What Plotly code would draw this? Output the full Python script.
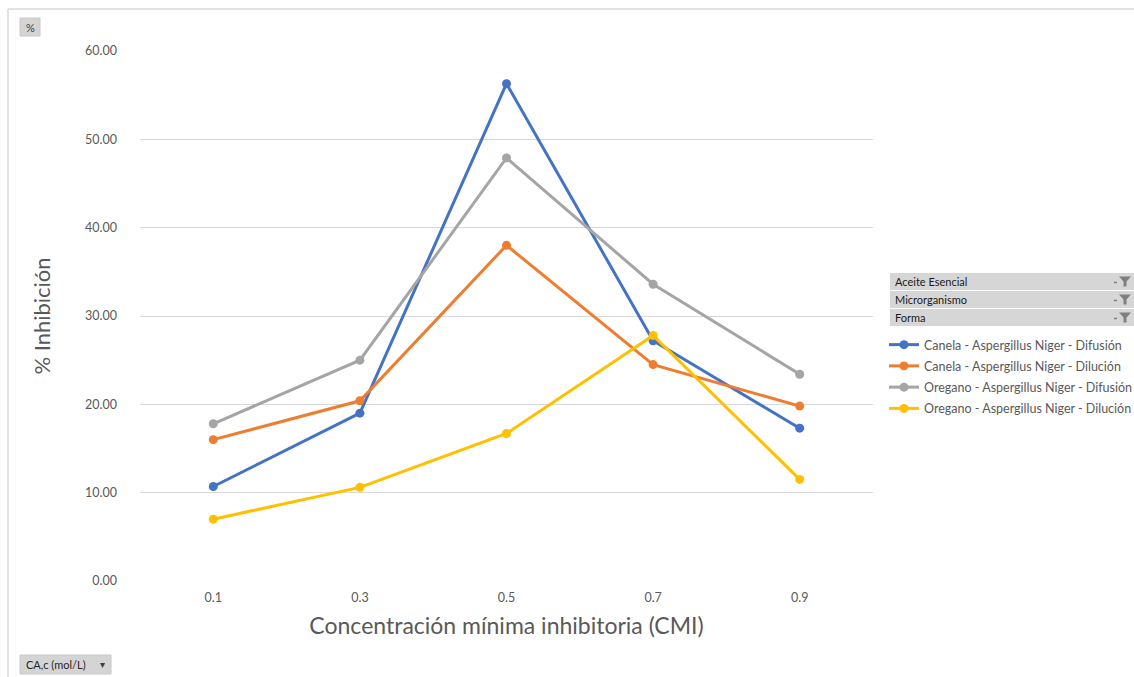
import plotly.graph_objects as go

# ---- data ----
categories = ["0.1", "0.3", "0.5", "0.7", "0.9"]
canela_difusion = [10.7, 19.0, 56.3, 27.2, 17.3]
canela_dilucion = [16.0, 20.4, 38.0, 24.5, 19.8]
oregano_difusion = [17.8, 25.0, 47.9, 33.6, 23.4]
oregano_dilucion = [7.0, 10.6, 16.7, 27.8, 11.5]

series_names = [
    "Canela - Aspergillus Niger - Difusión",
    "Canela - Aspergillus Niger - Dilución",
    "Oregano - Aspergillus Niger - Difusión",
    "Oregano - Aspergillus Niger - Dilución",
]
series_values = [canela_difusion, canela_dilucion, oregano_difusion, oregano_dilucion]
colors = ["#4472C4", "#ED7D31", "#A5A5A5", "#FFC000"]
filter_labels = ["Aceite Esencial", "Microrganismo", "Forma"]
y_ticks = [0, 10, 20, 30, 40, 50, 60]

W, H = 1134, 677
L, R, T, B = 140, 873, 51, 581
FONT = "Lato"


def px(x):
    return (x - L) / (R - L)


def py(y):
    return (B - y) / (B - T)


fig = go.Figure()
for i, (name, vals, col) in enumerate(zip(series_names, series_values, colors)):
    fig.add_trace(go.Scatter(
        x=categories, y=vals, name=name, mode="lines+markers",
        legendgroup=f"g{i}",
        line=dict(color=col, width=3),
        marker=dict(color=col, size=9),
    ))

shapes = []
annotations = []

# outer frame lines
shapes.append(dict(type="line", xref="paper", yref="paper",
                   x0=px(8), x1=px(W), y0=py(9), y1=py(9),
                   line=dict(color="#d9d9d9", width=1.5)))
shapes.append(dict(type="line", xref="paper", yref="paper",
                   x0=px(8), x1=px(8), y0=py(9), y1=py(H),
                   line=dict(color="#d9d9d9", width=1.5)))

# "%" button
shapes.append(dict(type="rect", xref="paper", yref="paper",
                   x0=px(20), x1=px(40), y0=py(36), y1=py(18),
                   fillcolor="#d4d4d4", line=dict(color="#c8c8c8", width=1)))
annotations.append(dict(xref="paper", yref="paper", x=px(30), y=py(27),
                        xanchor="center", yanchor="middle",
                        text="%", showarrow=False, font=dict(family=FONT, size=11, color="#404040")))

# bottom button
shapes.append(dict(type="rect", xref="paper", yref="paper",
                   x0=px(20), x1=px(111), y0=py(674), y1=py(655),
                   fillcolor="#d4d4d4", line=dict(color="#c8c8c8", width=1)))
annotations.append(dict(xref="paper", yref="paper", x=px(24), y=py(664.5), xanchor="left",
                        yanchor="middle",
                        text="CA,c (mol/L)", showarrow=False,
                        font=dict(family=FONT, size=11, color="#262626")))
annotations.append(dict(xref="paper", yref="paper", x=px(102), y=py(664.5),
                        xanchor="center", yanchor="middle",
                        text="▾", showarrow=False,
                        font=dict(family="DejaVu Sans", size=10, color="#404040")))

# filter buttons
for i, lab in enumerate(filter_labels):
    y0 = 273 + i * 18
    y1 = y0 + 17
    shapes.append(dict(type="rect", xref="paper", yref="paper",
                       x0=px(890), x1=px(W), y0=py(y1), y1=py(y0),
                       fillcolor="#d6d6d6", line=dict(width=0)))
    annotations.append(dict(xref="paper", yref="paper", x=px(893), y=py((y0 + y1) / 2),
                            xanchor="left", yanchor="middle", text=lab, showarrow=False,
                            font=dict(family=FONT, size=11, color="#1a1a1a")))
    # funnel icon
    cx, cy = 1125, (y0 + y1) / 2
    path = (f"M {px(cx-6)},{py(cy-5)} L {px(cx+6)},{py(cy-5)} L {px(cx+1.5)},{py(cy)} "
            f"L {px(cx+1.5)},{py(cy+5)} L {px(cx-1.5)},{py(cy+5)} L {px(cx-1.5)},{py(cy)} Z")
    shapes.append(dict(type="path", xref="paper", yref="paper", path=path,
                       fillcolor="#7f7f7f", line=dict(width=0)))
    shapes.append(dict(type="line", xref="paper", yref="paper",
                       x0=px(cx - 11), x1=px(cx - 8), y0=py(cy + 1), y1=py(cy + 1),
                       line=dict(color="#7f7f7f", width=1.5)))

fig.update_layout(
    width=W, height=H,
    margin=dict(l=L, r=W - R, t=T, b=H - B, autoexpand=False),
    paper_bgcolor="white", plot_bgcolor="white",
    font=dict(family=FONT, color="#595959"),
    xaxis=dict(
        type="category", range=[-0.5, 4.5],
        showgrid=False, showline=False, zeroline=False,
        ticks="", tickfont=dict(size=12.5, color="#595959"),
        ticklabelstandoff=7,
        title=dict(text="Concentración mínima inhibitoria (CMI)",
                   font=dict(size=23, color="#595959"), standoff=14),
    ),
    yaxis=dict(
        range=[0, 60], tickvals=y_ticks, tickformat=".2f",
        showgrid=True, gridcolor="#d9d9d9", gridwidth=1,
        zeroline=False, showline=False, ticks="", ticklen=0,
        tickfont=dict(size=12.5, color="#595959"),
        ticklabelstandoff=22,
        title=dict(text="% Inhibición", font=dict(size=22, color="#595959"), standoff=28),
    ),
    legend=dict(
        x=px(884), y=py(330), xanchor="left", yanchor="top",
        font=dict(family=FONT, size=12.5, color="#595959"),
        itemwidth=30, bgcolor="rgba(0,0,0,0)", tracegroupgap=2,
    ),
    shapes=shapes,
    annotations=annotations,
    showlegend=True,
)

fig.write_html(
    "out.html",
    config={"displayModeBar": False},
    post_script="document.body.style.margin='0';document.body.style.overflow='hidden';",
)
